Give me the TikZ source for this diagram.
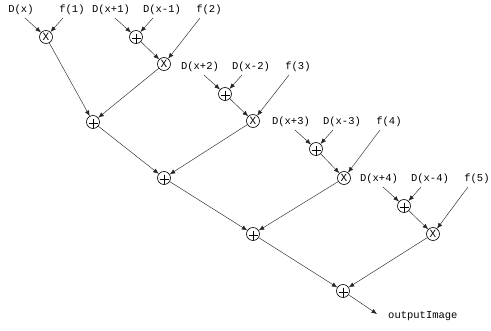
\documentclass[tikz,border=0pt]{standalone}
\usepackage{fontspec}
\setmonofont{Liberation Mono}
\usetikzlibrary{arrows.meta}
\begin{document}
\begin{tikzpicture}[x=1pt,y=-1pt,
  op/.style={draw,circle,line width=0.6pt,minimum size=13pt,inner sep=0pt},
  mul/.style={op,font=\ttfamily\fontsize{11}{11}\selectfont},
  add/.style={op,path picture={
      \draw[line width=0.9pt] (path picture bounding box.center) ++(-4.5pt,-1.2pt) -- ++(9pt,0pt);
      \draw[line width=0.9pt] (path picture bounding box.center) ++(0pt,3.3pt) -- ++(0pt,-10pt);}},
  lab/.style={font=\ttfamily\fontsize{10.5}{12}\selectfont,inner sep=0pt},
  arr/.style={line width=0.45pt,draw=black!85,-{Latex[length=5.5pt,width=4.5pt]}}]
\useasboundingbox (0,0) rectangle (491,331);
% operator nodes
\node[mul] (X1) at (46,37) {X};
\node[add] (P1) at (136,37) {};
\node[mul] (X2) at (164,64) {X};
\node[add] (P2) at (225,94) {};
\node[mul] (X3) at (253,121) {X};
\node[add] (P3) at (316,149) {};
\node[mul] (X4) at (344,178) {X};
\node[add] (P4) at (404,206) {};
\node[mul] (X5) at (433,234) {X};
\node[add] (S1) at (93,122) {};
\node[add] (S2) at (164,178) {};
\node[add] (S3) at (253,234) {};
\node[add] (S4) at (343,291) {};
% labels
\node[lab] (L0a) at (21,10) {D(x)};
\node[lab] (L0b) at (72,10) {f(1)};
\node[lab] (L1a) at (111,10) {D(x+1)};
\node[lab] (L1b) at (162,10) {D(x-1)};
\node[lab] (F2) at (209,10) {f(2)};
\node[lab] (L2a) at (200,67) {D(x+2)};
\node[lab] (L2b) at (251,67) {D(x-2)};
\node[lab] (F3) at (298,67) {f(3)};
\node[lab] (L3a) at (291,122) {D(x+3)};
\node[lab] (L3b) at (342,122) {D(x-3)};
\node[lab] (F4) at (389,122) {f(4)};
\node[lab] (L4a) at (379,179) {D(x+4)};
\node[lab] (L4b) at (430,179) {D(x-4)};
\node[lab] (F5) at (477,179) {f(5)};
\node[lab,anchor=west] (out) at (388,316) {outputImage};
% arrow start points
\coordinate (s0a) at (25,18);
\coordinate (s0b) at (63,18);
\coordinate (s1a) at (115,18);
\coordinate (s1b) at (153,18);
\coordinate (sf2) at (200,18);
\coordinate (s2a) at (204,75);
\coordinate (s2b) at (242,75);
\coordinate (sf3) at (289,75);
\coordinate (s3a) at (295,130);
\coordinate (s3b) at (333,130);
\coordinate (sf4) at (380,130);
\coordinate (s4a) at (383,187);
\coordinate (s4b) at (421,187);
\coordinate (sf5) at (468,187);
\coordinate (oend) at (377,314);
% connectors
\draw[arr] (s0a) -- (X1);
\draw[arr] (s0b) -- (X1);
\draw[arr] (s1a) -- (P1);
\draw[arr] (s1b) -- (P1);
\draw[arr] (P1) -- (X2);
\draw[arr] (sf2) -- (X2);
\draw[arr] (s2a) -- (P2);
\draw[arr] (s2b) -- (P2);
\draw[arr] (P2) -- (X3);
\draw[arr] (sf3) -- (X3);
\draw[arr] (s3a) -- (P3);
\draw[arr] (s3b) -- (P3);
\draw[arr] (P3) -- (X4);
\draw[arr] (sf4) -- (X4);
\draw[arr] (s4a) -- (P4);
\draw[arr] (s4b) -- (P4);
\draw[arr] (P4) -- (X5);
\draw[arr] (sf5) -- (X5);
\draw[arr] (X1) -- (S1);
\draw[arr] (X2) -- (S1);
\draw[arr] (S1) -- (S2);
\draw[arr] (X3) -- (S2);
\draw[arr] (S2) -- (S3);
\draw[arr] (X4) -- (S3);
\draw[arr] (S3) -- (S4);
\draw[arr] (X5) -- (S4);
\draw[arr] (S4) -- (oend);
\end{tikzpicture}
\end{document}
